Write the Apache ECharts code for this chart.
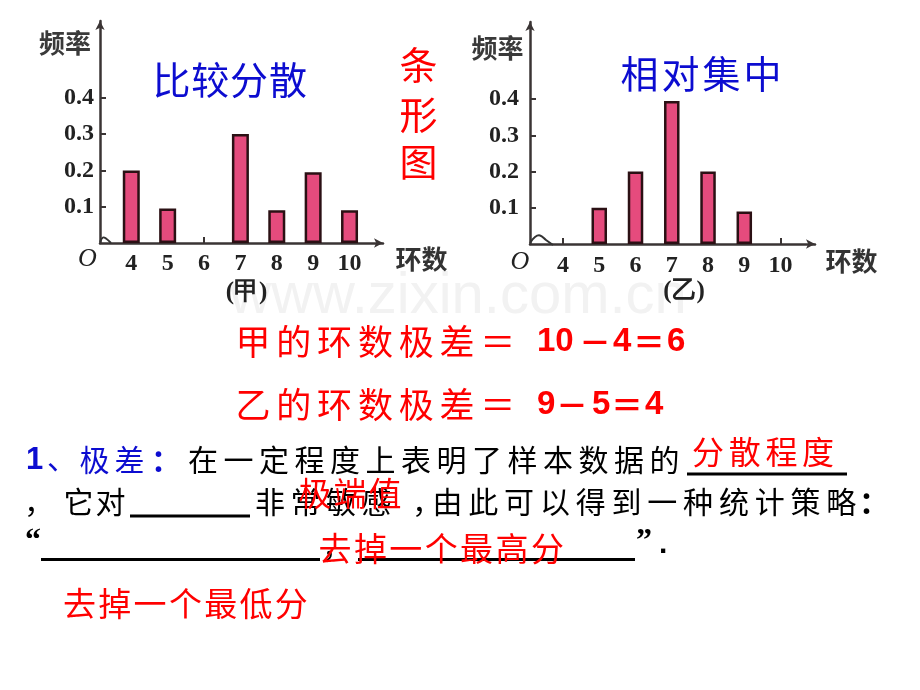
<!DOCTYPE html>
<html><head><meta charset="utf-8">
<script src="https://cdn.jsdelivr.net/npm/echarts@6/dist/echarts.min.js"></script>
<style>html,body{margin:0;padding:0;background:#fff}#c{width:920px;height:690px}</style>
</head><body><div id="c"></div>
<script>
// ---- data ----
const ringsA = [4, 5, 6, 7, 8, 9, 10];
const freqA  = [0.2, 0.095, 0, 0.3, 0.09, 0.195, 0.09];
const ringsB = [5, 6, 7, 8, 9];
const freqB  = [0.1, 0.2, 0.395, 0.2, 0.09];
const xTickLabels = [4, 5, 6, 7, 8, 9, 10];
const yTickLabels = [0.1, 0.2, 0.3, 0.4];

const CJK = '"Noto Sans CJK SC", sans-serif';
const SERIF = '"Liberation Serif", "DejaVu Serif", serif';
const ARIAL = '"Liberation Sans", Arial, sans-serif';
const RED = '#ff0000', BLUE = '#0c0cd0', BLACK = '#000000';

function T(text, x, y, o) {
  o = o || {};
  return { type: 'text', x: x, y: y, z: o.z || 10,
    style: { text: text, fill: o.color || BLACK, fontSize: o.size || 30,
      fontFamily: o.family || CJK, fontWeight: o.weight || 'normal', fontStyle: o.style || 'normal',
      textAlign: o.align || 'center', textVerticalAlign: o.valign || 'middle' } };
}
function row(str, cx0, cy, step, o) {
  return Array.from(str).map((ch, i) => T(ch, cx0 + i * step, cy, o));
}
function L(x1, y1, x2, y2, w) {
  return { type: 'line', z: 10, shape: { x1, y1, x2, y2 }, style: { stroke: BLACK, lineWidth: w || 3 } };
}

function mkX(gi, min, max, margin) {
  return { type: 'value', gridIndex: gi, min: min, max: max, splitLine: { show: false },
    axisLine: { onZero: false, lineStyle: { color: '#3a3434', width: 2.5 }, symbol: ['none', 'arrow'], symbolSize: [7, 9] },
    axisTick: { show: true, inside: true, length: 6, customValues: xTickLabels, lineStyle: { color: '#3a3434', width: 2 } },
    axisLabel: { customValues: xTickLabels, margin: margin, fontFamily: SERIF, fontSize: 24, color: '#222', fontWeight: 'bold' } };
}
function mkY(gi, max, margin) {
  return { type: 'value', gridIndex: gi, min: 0, max: max, splitLine: { show: false },
    axisLine: { show: true, onZero: false, lineStyle: { color: '#3a3434', width: 2.5 }, symbol: ['none', 'arrow'], symbolSize: [7, 9] },
    axisTick: { show: true, inside: true, length: 6, customValues: yTickLabels, lineStyle: { color: '#3a3434', width: 2 } },
    axisLabel: { customValues: yTickLabels, margin: margin, fontFamily: SERIF, fontSize: 24, color: '#222', fontWeight: 'bold',
      formatter: v => Number(v).toFixed(1) } };
}

const barStyle = { color: '#e54b7d', borderColor: '#2b1014', borderWidth: 2.5 };

const elements = [
  // watermark
  { type: 'text', x: 458, y: 326, z: 0, style: { text: 'www.zixin.com.cn', fill: '#f2f2f2', fontSize: 58, fontFamily: ARIAL, textAlign: 'center', textVerticalAlign: 'bottom' } },
  // axis squiggles
  { type: 'polyline', z: 10, shape: { points: [[100, 242], [103, 237.5], [106, 238.5], [111, 243]], smooth: 0.4 }, style: { stroke: '#333', lineWidth: 2, fill: null } },
  { type: 'polyline', z: 10, shape: { points: [[530, 243], [535, 237], [540, 235.5], [546, 240], [553, 245]], smooth: 0.4 }, style: { stroke: '#333', lineWidth: 2, fill: null } },
  // axis captions
  T('频率', 65, 43, { size: 26, weight: 'bold', color: '#3a3a3a' }),
  T('频率', 497.5, 48, { size: 26, weight: 'bold', color: '#3a3a3a' }),
  T('环数', 421.5, 259, { size: 26, weight: 'bold', color: '#333' }),
  T('环数', 851.5, 261, { size: 26, weight: 'bold', color: '#333' }),
  T('O', 87.5, 259, { size: 26, family: SERIF, style: 'italic', color: '#222' }),
  T('O', 520, 262, { size: 26, family: SERIF, style: 'italic', color: '#222' }),
  T('(甲)', 246.5, 293, { size: 25, family: SERIF, color: '#222', weight: 'bold' }),
  T('(乙)', 684, 292, { size: 25, family: SERIF, color: '#222', weight: 'bold' }),
  // titles
  ...row('比较分散', 171.5, 80, 38.8, { size: 38, color: BLUE }),
  ...row('相对集中', 639.5, 73.5, 41, { size: 38, color: BLUE }),
  T('条', 418.5, 65, { size: 38, color: RED }),
  T('形', 418.5, 115, { size: 38, color: RED }),
  T('图', 418.5, 162, { size: 38, color: RED }),
  // range lines
  ...row('甲的环数极差＝', 253, 342, 40.8, { size: 35, color: RED }),
  T('10', 537, 342, { size: 33, family: ARIAL, weight: 'bold', color: RED, align: 'left' }),
  T('－', 595, 342, { size: 32, color: RED, weight: 'bold' }),
  T('4', 613, 342, { size: 33, family: ARIAL, weight: 'bold', color: RED, align: 'left' }),
  T('＝', 649, 342, { size: 32, color: RED, weight: 'bold' }),
  T('6', 667, 342, { size: 33, family: ARIAL, weight: 'bold', color: RED, align: 'left' }),
  ...row('乙的环数极差＝', 253, 405, 40.8, { size: 35, color: RED }),
  T('9', 537, 405, { size: 33, family: ARIAL, weight: 'bold', color: RED, align: 'left' }),
  T('－', 572, 405, { size: 32, color: RED, weight: 'bold' }),
  T('5', 592, 405, { size: 33, family: ARIAL, weight: 'bold', color: RED, align: 'left' }),
  T('＝', 627, 405, { size: 32, color: RED, weight: 'bold' }),
  T('4', 645, 405, { size: 33, family: ARIAL, weight: 'bold', color: RED, align: 'left' }),
  // row 3
  T('1', 26, 460, { size: 31, family: ARIAL, weight: 'bold', color: BLUE, align: 'left' }),
  T('、', 47, 458, { size: 30, color: BLUE, align: 'left' }),
  ...row('极差', 94.5, 460, 35, { size: 30, color: BLUE }),
  T('：', 151, 460, { size: 30, color: BLUE, align: 'left', weight: 'bold' }),
  ...row('在一定程度上表明了样本数据的', 203, 460, 35.5, { size: 30 }),
  L(687, 474, 847, 474, 3),
  ...row('分散程度', 708, 452, 36.7, { size: 32, color: RED }),
  // row 4
  T('，', 24, 502, { size: 30, align: 'left' }),
  ...row('它对', 78.5, 502, 32, { size: 30 }),
  L(130, 516, 250, 516, 3),
  ...row('非常敏感', 270, 502, 35.5, { size: 30 }),
  T('，', 412, 502, { size: 30, align: 'left' }),
  ...row('由此可以得到一种统计策略', 447.5, 502, 35.8, { size: 30 }),
  T('：', 859, 502, { size: 30, align: 'left', weight: 'bold' }),
  ...row('极端值', 315, 493, 35, { size: 33, color: RED, z: 12 }),
  // row 5
  T('“', 25, 542, { size: 32, family: SERIF, weight: 'bold', align: 'left' }),
  L(41, 559.5, 320, 559.5, 3),
  T('，', 322, 546, { size: 30, align: 'left' }),
  L(358, 559.5, 635, 559.5, 3),
  T('”', 636, 542, { size: 32, family: SERIF, weight: 'bold', align: 'left' }),
  T('.', 659, 545, { size: 30, family: ARIAL, weight: 'bold', align: 'left' }),
  ...row('去掉一个最高分', 335, 548.5, 35.4, { size: 33, color: RED, z: 12 }),
  // row 6
  ...row('去掉一个最低分', 79.5, 603.5, 35.3, { size: 33, color: RED })
];

const chart = echarts.init(document.getElementById('c'), null, { renderer: 'canvas' });
chart.setOption({
  animation: false,
  backgroundColor: '#ffffff',
  grid: [
    { left: 100, top: 21, width: 283, height: 222 },
    { left: 530, top: 22, width: 285, height: 222 }
  ],
  xAxis: [mkX(0, 3.14, 10.92, 9), mkX(1, 3.09, 10.95, 10)],
  yAxis: [mkY(0, 0.6116, 6), mkY(1, 0.613, 11)],
  series: [
    { type: 'bar', xAxisIndex: 0, yAxisIndex: 0, barWidth: 17, itemStyle: barStyle,
      data: ringsA.map((r, i) => [r, freqA[i]]).filter(d => d[1] > 0) },
    { type: 'bar', xAxisIndex: 1, yAxisIndex: 1, barWidth: 15.5, itemStyle: barStyle,
      data: ringsB.map((r, i) => [r, freqB[i]]).filter(d => d[1] > 0) }
  ],
  graphic: { elements: elements }
});
</script>
</body></html>
